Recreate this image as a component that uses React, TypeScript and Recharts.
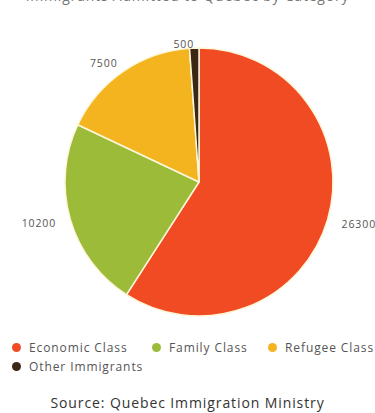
import { PieChart, Pie, Cell, Legend } from 'recharts';

const categories = ['Economic Class', 'Family Class', 'Refugee Class', 'Other Immigrants'];
const admissions = [26300, 10200, 7500, 500];
const sliceColors = ['#f04b23', '#9cbb38', '#f3b41f', '#3b2716'];

const chartTitle = 'Immigrants Admitted to Quebec by Category';
const sourceNote = 'Source: Quebec Immigration Ministry';

const data = categories.map((name, i) => ({ name, value: admissions[i] }));

const RAD = Math.PI / 180;

// labels sit a bit further out at the sides than at the top
const renderLabel = (props: any) => {
    const { cx, cy, midAngle, outerRadius, value } = props;
    const ux = Math.cos(-midAngle * RAD);
    const uy = Math.sin(-midAngle * RAD);
    const r = outerRadius + 4 + 11 * Math.abs(ux);
    const x = cx + r * ux;
    const y = cy + r * uy;
    return (
        <text
            x={x}
            y={y}
            fill="#555"
            fontSize={10.5}
            letterSpacing={0.9}
            textAnchor={x > cx ? 'start' : 'end'}
            dominantBaseline="central"
        >
            {value}
        </text>
    );
};

const legendWidths = [140, 116, 100, 140];

const LegendContent = () => (
    <div style={{ display: 'flex', flexWrap: 'wrap', width: 375, paddingLeft: 12, boxSizing: 'border-box' }}>
        {categories.map((name, i) => (
            <div
                key={`leg-${i}`}
                style={{ display: 'flex', alignItems: 'center', width: legendWidths[i], height: 19, fontSize: 12, letterSpacing: 0.9, color: '#555', whiteSpace: 'nowrap' }}
            >
                <span style={{ display: 'inline-block', width: 9, height: 9, borderRadius: 5, background: sliceColors[i], marginRight: 8, flexShrink: 0 }} />
                {name}
            </div>
        ))}
    </div>
);

export default function App() {
    return (
        <div style={{ position: 'absolute', left: 0, top: 0, width: 375, height: 413, background: '#fff', fontFamily: '"Open Sans", sans-serif', overflow: 'hidden' }}>
            <div style={{ position: 'absolute', top: -14, left: 0, width: 375, textAlign: 'center', fontSize: 14, letterSpacing: 0.8, color: '#777' }}>
                {chartTitle}
            </div>
            <PieChart width={375} height={390}>
                <Pie
                    data={data}
                    dataKey="value"
                    nameKey="name"
                    cx={194}
                    cy={177}
                    outerRadius={134}
                    startAngle={90}
                    endAngle={-270}
                    stroke="#fdf6d8"
                    strokeWidth={1.5}
                    label={renderLabel}
                    labelLine={false}
                    isAnimationActive={false}
                >
                    {data.map((entry, index) => (
                        <Cell key={`cell-${index}`} fill={sliceColors[index]} />
                    ))}
                </Pie>
                <Legend
                    content={<LegendContent />}
                    wrapperStyle={{ top: 338, left: 0, width: 375 }}
                />
            </PieChart>
            <div style={{ position: 'absolute', top: 394, left: 0, width: 375, lineHeight: '18px', textAlign: 'center', fontSize: 14, letterSpacing: 0.9, color: '#333' }}>
                {sourceNote}
            </div>
        </div>
    );
}
